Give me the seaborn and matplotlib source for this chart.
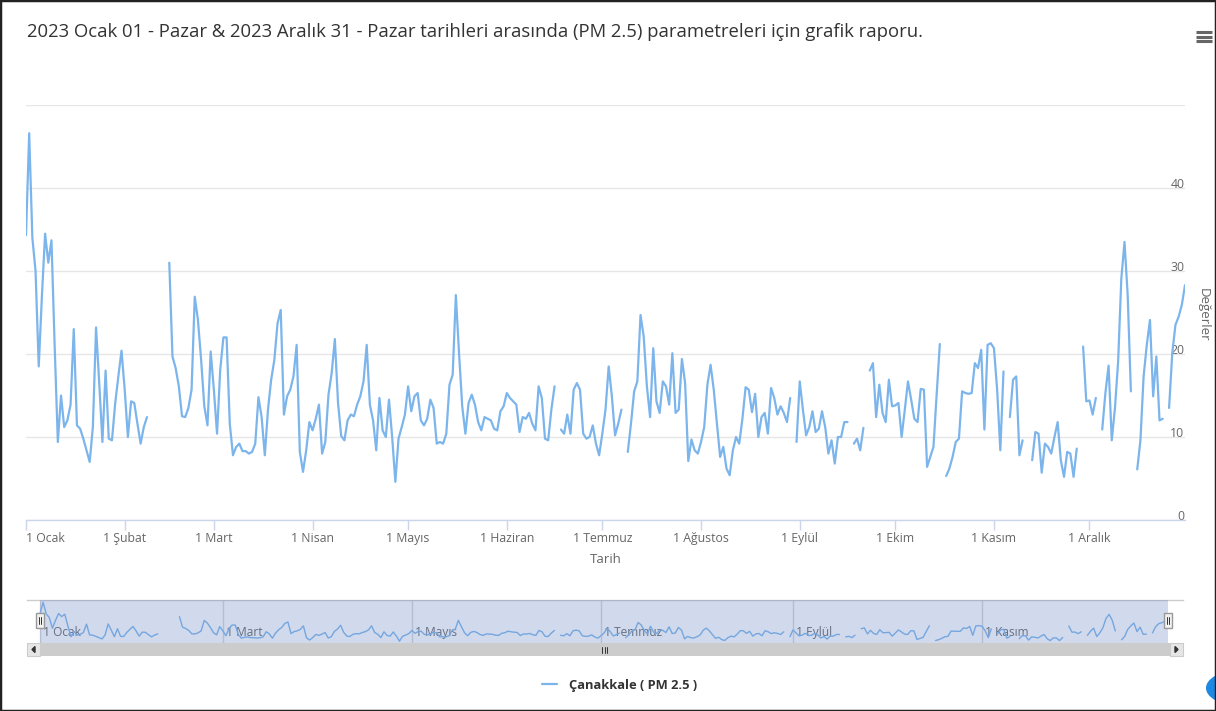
import numpy as np
import pandas as pd
import matplotlib
matplotlib.use("Agg")
import matplotlib.pyplot as plt
from matplotlib.patches import Rectangle, Circle, Polygon
from matplotlib.lines import Line2D
import seaborn as sns

nan = np.nan

title = ("2023 Ocak 01 - Pazar & 2023 Aralık 31 - Pazar tarihleri arasında "
         "(PM 2.5) parametreleri için grafik raporu.")
series_name = "Çanakkale ( PM 2.5 )"
x_title = "Tarih"
y_title = "Değerler"
month_labels = ["1 Ocak", "1 Şubat", "1 Mart", "1 Nisan", "1 Mayıs", "1 Haziran",
                "1 Temmuz", "1 Ağustos", "1 Eylül", "1 Ekim", "1 Kasım", "1 Aralık"]
y_ticks = [0, 10, 20, 30, 40, 50]

# daily PM2.5 values, month by month (nan = no data)
jan = [34.3, 46.6, 34, 30, 18.5, 27, 34.5, 31, 33.7, 21, 9.4, 15, 11.2, 12, 13.9, 23,
       11.4, 11, 9.8, 8.4, 7.0, 11.2, 23.2, 16.5, 9.4, 18, 9.8, 9.6, 14, 17.3, 20.4]
feb = [15.7, 10, 14.3, 14.1, 11.6, 9.2, 11.2, 12.4, nan, nan, nan, nan, nan, nan,
       31, 19.7, 18.3, 16.1, 12.5, 12.4, 13.5, 15.7, 26.9, 24.1, 19.3, 13.7, 11.4, 20.3]
mar = [15.7, 10.4, 18.1, 22, 22, 11.6, 7.8, 8.8, 9.2, 8.3, 8.3, 8.0, 8.2, 9.2, 14.8,
       12.4, 7.8, 13.3, 16.9, 19.3, 23.7, 25.3, 12.7, 14.9, 15.7, 17.3, 21.1, 8.2, 5.8,
       8.4, 11.8]
apr = [10.8, 12.2, 13.9, 8.0, 9.4, 15.1, 17.7, 21.8, 14.1, 10.1, 9.6, 12, 12.7, 12.5,
       13.9, 14.9, 16.7, 21.1, 13.9, 12, 8.4, 14.7, 10.8, 10, 14.5, 10, 4.6, 9.8, 11.2,
       12.7]
may = [16.1, 13.1, 14.9, 15.3, 12, 11.4, 12.2, 14.5, 13.5, 9.2, 9.4, 9.2, 10.4, 16.3,
       17.5, 27.1, 20.1, 13.7, 10.4, 14.1, 15.1, 13.9, 11.8, 10.8, 12.4, 12.2, 12, 11,
       10.8, 13.1, 13.7]
jun = [15.3, 14.7, 14.3, 13.9, 10.6, 12.4, 12.2, 12.9, 11.6, 10.8, 16.1, 14.7, 9.8, 9.6,
       13.3, 16.1, nan, 10.9, 10.4, 12.7, 10.4, 15.7, 16.5, 15.7, 10.4, 9.8, 10, 11.4,
       9.2, 7.8]
jul = [10.4, 13.3, 18.5, 14.9, 10.2, 11.6, 13.3, nan, 8.2, 11.6, 15.5, 16.7, 24.7, 22.1,
       16.1, 12.4, 20.7, 14.3, 12.9, 16.7, 16.1, 13.9, 20.1, 12.9, 13.3, 19.4, 16.5, 7.1,
       9.7, 8.4, 8.0]
aug = [9.4, 11.2, 16.3, 18.7, 15.7, 11.6, 7.6, 8.8, 6.2, 5.4, 8.4, 10, 9.2, 12.2, 16,
       15.7, 13, 15.2, 10, 12.4, 12.9, 10.4, 15.9, 14.7, 12.7, 13.7, 12.9, 11.8, 14.7,
       nan, 9.4]
sep = [16.7, 13.3, 10.2, 11.2, 13.1, 10.6, 11, 13.1, 11.2, 8.0, 9.6, 6.8, 10, 10, 11.8,
       11.8, nan, 9.2, 9.8, 8.4, 11.1, nan, 18, 18.9, 12.4, 16.3, 12.9, 11.8, 16.9, 13.7]
oct_ = [13.8, 14.1, 10, 13.3, 16.7, 14.5, 12.2, 11.8, 15.8, 15.7, 6.4, 7.6, 8.8, 15.1,
        21.2, nan, 5.3, 6.2, 7.6, 9.4, 9.8, 15.5, 15.3, 15.2, 15.3, 18.9, 18.3, 20.5,
        10.9, 21.1, 21.3]
nov = [20.7, 15.7, 8.4, 17.9, nan, 12.4, 16.9, 17.3, 7.8, 9.6, nan, nan, 7.2, 10.6,
       10.4, 5.7, 9.2, 8.8, 8.0, 10, 11.8, 7.2, 5.2, 8.2, 8.0, 5.2, 8.6, nan, 20.9, 14.3]
dec = [14.4, 12.7, 14.7, nan, 10.9, 15.3, 18.6, 9.6, 13.5, 19.1, 29.1, 33.5, 27.1, 15.5,
       nan, 6.1, 9.6, 17.3, 21.1, 24.1, 14.9, 19.7, 12, 12.2, nan, 13.5, 20.1, 23.5, 24.5,
       25.9, 28.3]

values = jan + feb + mar + apr + may + jun + jul + aug + sep + oct_ + nov + dec
dates = pd.date_range("2023-01-01", "2023-12-31", freq="D")
month_starts = pd.date_range("2023-01-01", periods=12, freq="MS")

df = pd.DataFrame({"Tarih": dates, "value": values})
df["seg"] = df["value"].isna().cumsum()
df = df.dropna().reset_index(drop=True)

sns.set_style("white")
plt.rcParams["font.family"] = ["Open Sans", "DejaVu Sans"]

W, H = 1216, 711
fig = plt.figure(figsize=(W / 100, H / 100), dpi=100)
fig.patch.set_facecolor("white")


def fx(px):
    return px / W


def fy(py):
    return 1 - py / H


LINE_C = "#7cb5ec"
TXT = "#666666"

# ---------------- main chart ----------------
ax = fig.add_axes([fx(26), fy(520), fx(1185) - fx(26), fy(105) - fy(520)])
sns.lineplot(data=df, x="Tarih", y="value", units="seg", estimator=None,
             color=LINE_C, linewidth=1.6, ax=ax, legend=False)
ax.set_xlim(dates[0], dates[-1])
ax.set_ylim(0, 50)
ax.set_yticks(y_ticks)
ax.set_yticklabels([str(v) for v in y_ticks[:-1]] + [""])
ax.yaxis.grid(True, color="#e6e6e6", linewidth=1)
ax.xaxis.grid(False)
for s in ["left", "right", "top"]:
    ax.spines[s].set_visible(False)
ax.spines["bottom"].set_color("#ccd6eb")
ax.spines["bottom"].set_linewidth(1)
ax.yaxis.tick_right()
ax.tick_params(axis="y", length=0, pad=-0.5, labelsize=8.8, labelcolor=TXT)
for lab in ax.get_yticklabels():
    lab.set_ha("right")
    lab.set_va("baseline")

ax.set_xticks(month_starts)
ax.set_xticklabels(month_labels)
ax.tick_params(axis="x", bottom=True, length=7, width=1, color="#ccd6eb",
               labelsize=8.8, labelcolor=TXT, pad=1.5)
ax.get_xticklabels()[0].set_ha("left")
ax.set_xlabel(x_title, fontsize=9.5, color=TXT, labelpad=6)

ax.set_ylabel(y_title, fontsize=9.5, color=TXT)
ax.yaxis.set_label_position("right")
ax.yaxis.label.set_rotation(270)
ax.yaxis.label.set_va("center")
ax.yaxis.label.set_ha("center")
ax.yaxis.set_label_coords((1203 - 26) / (1185 - 26), 0.495)

# title
fig.text(fx(27), fy(32), title, fontsize=13.35, color="#333333", ha="left", va="center")

# export (hamburger) icon
for yy in (32, 36.5, 41):
    fig.add_artist(Line2D([fx(1196), fx(1212)], [fy(yy), fy(yy)], color="#666666",
                          linewidth=2.2, solid_capstyle="butt"))

# ---------------- navigator ----------------
nav_l, nav_r = 27, 1183
d0, d1 = 40, 1168
ppd = (d1 - d0) / 364
nav = fig.add_axes([fx(nav_l), fy(643), fx(nav_r) - fx(nav_l), fy(600) - fy(643)])
sns.lineplot(data=df, x="Tarih", y="value", units="seg", estimator=None,
             color=LINE_C, linewidth=1, ax=nav, legend=False)
nav.set_xlim(dates[0] - pd.Timedelta(days=(d0 - nav_l) / ppd),
             dates[-1] + pd.Timedelta(days=(nav_r - d1) / ppd))
lo, hi = np.nanmin(values), np.nanmax(values)
nav.set_ylim(lo - 2.0, hi + 2.4)
nav.axvspan(dates[0], dates[-1], facecolor="#6685c2", alpha=0.3, linewidth=0, zorder=3)
nav.set_yticks([])
nav.set_xticks(month_starts[::2])
nav.set_xticklabels([" " + m for m in month_labels[::2]])
nav.tick_params(axis="x", length=0, pad=-12, labelsize=8.6, labelcolor="#666666")
for lab in nav.get_xticklabels():
    lab.set_ha("left")
nav.xaxis.grid(True, color="#d8d8d8", linewidth=1)
nav.set_xlabel("")
nav.set_ylabel("")
for s in ["left", "right", "bottom"]:
    nav.spines[s].set_visible(False)
nav.spines["top"].set_color("#cccccc")
nav.spines["top"].set_linewidth(1)


def frect(x0, y0, x1, y1, **kw):
    r = Rectangle((fx(x0), fy(y1)), fx(x1) - fx(x0), fy(y0) - fy(y1),
                  transform=fig.transFigure, **kw)
    fig.add_artist(r)
    return r


# handles
for hx in (d0, d1):
    frect(hx - 4, 613, hx + 4, 628, facecolor="#f2f2f2", edgecolor="#999999",
          linewidth=1, zorder=10)
    for dx in (-1.3, 1.3):
        fig.add_artist(Line2D([fx(hx + dx), fx(hx + dx)], [fy(617), fy(624)],
                              color="#333333", linewidth=0.7, zorder=11))

# scrollbar
frect(nav_l, 643, nav_r, 656, facecolor="#f2f2f2", edgecolor="none", zorder=5)
frect(40, 643, 1170, 656, facecolor="#cccccc", edgecolor="none", zorder=6)
frect(nav_l, 643, 40, 656, facecolor="#e6e6e6", edgecolor="#cccccc", linewidth=0.8, zorder=7)
frect(1170, 643, nav_r, 656, facecolor="#e6e6e6", edgecolor="#cccccc", linewidth=0.8, zorder=7)
fig.add_artist(Polygon([[fx(35), fy(646.5)], [fx(35), fy(652.5)], [fx(32), fy(649.5)]],
                       closed=True, transform=fig.transFigure, color="#333333", zorder=8))
fig.add_artist(Polygon([[fx(1175), fy(646.5)], [fx(1175), fy(652.5)], [fx(1178), fy(649.5)]],
                       closed=True, transform=fig.transFigure, color="#333333", zorder=8))
for gx in (602, 604.5, 607):
    fig.add_artist(Line2D([fx(gx), fx(gx)], [fy(647), fy(652.5)], color="#333333",
                          linewidth=0.7, zorder=8))

# legend
leg = fig.legend([Line2D([], [], color=LINE_C, linewidth=1.6)], [series_name],
                 loc="center", bbox_to_anchor=(fx(619.5), fy(685)), frameon=False,
                 handlelength=1.2, handletextpad=0.95,
                 prop={"size": 9.3, "weight": "bold"})
for t in leg.get_texts():
    t.set_color("#333333")

# outer frame and floating button
fig.add_artist(Rectangle((0, 0), 1, 1, transform=fig.transFigure, fill=False,
                         edgecolor="#222222", linewidth=2.5, zorder=20))
fig.add_artist(Circle((fx(1234), fy(688)), 28 / W, transform=fig.transFigure,
                      facecolor="#1e88e5", edgecolor="none", zorder=19))

fig.savefig("out.png", dpi=100)
